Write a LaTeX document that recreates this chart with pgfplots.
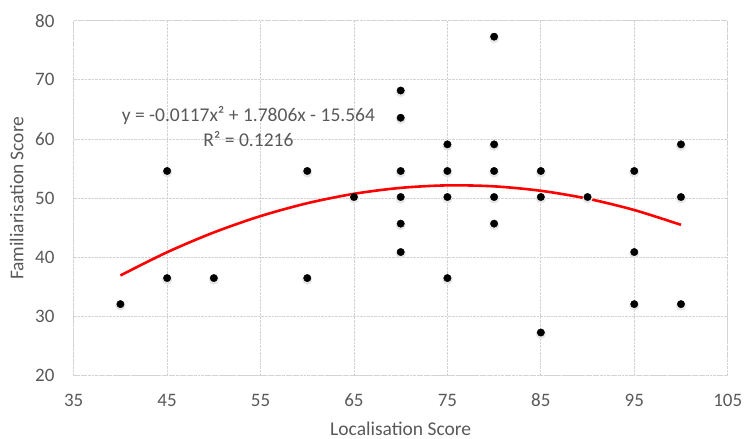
\documentclass[border=0pt]{standalone}
\usepackage{pgfplots}
\pgfplotsset{compat=1.18}
\usepackage{fontspec}
\setmainfont{Carlito}
\definecolor{txt}{HTML}{595959}
\definecolor{gridc}{HTML}{D3D3D3}
\begin{document}
\fontsize{19.5bp}{23bp}\selectfont
\begin{tikzpicture}
\begin{axis}[
 scale only axis, width=654bp, height=355bp,
 xmin=35, xmax=105, ymin=20, ymax=80,
 xtick={35,45,...,105}, ytick={20,30,...,80},
 grid=major,
 major grid style={gridc, densely dotted, line width=0.8bp},
 axis line style={gridc, densely dotted, line width=0.8bp},
 major tick length=0pt,
 ticklabel style={font=\fontsize{19bp}{23bp}\selectfont, text=txt, inner sep=0pt},
 /pgf/number format/assume math mode=true,
 xticklabel style={anchor=north, yshift=-18bp},
 yticklabel style={anchor=east, xshift=-19bp},
 xlabel={Localisation Score}, ylabel={Familiarisation Score},
 label style={font=\fontsize{19.5bp}{23bp}\selectfont, text=txt, inner sep=0pt},
 xlabel style={at={(axis description cs:0.5,-0.150)}, anchor=center},
 ylabel style={at={(axis description cs:-0.0872,0.5)}, anchor=center},
]
% shadow
\addplot[only marks, mark=*, mark size=4.8bp, color=black!10, mark options={yshift=-1.5bp}, forget plot] table {
x y
40 32.1
45 54.6
45 36.5
50 36.5
60 54.6
60 36.5
65 50.2
70 68.2
70 63.6
70 54.6
70 50.2
70 45.7
70 40.9
75 59.1
75 54.6
75 50.2
75 36.5
80 77.3
80 59.1
80 54.6
80 50.2
80 45.7
85 54.6
85 50.2
85 27.3
90 50.2
95 54.6
95 40.9
95 32.1
100 59.1
100 50.2
100 32.1
};
\addplot[only marks, mark=*, mark size=3.7bp, color=black] table {
x y
40 32.1
45 54.6
45 36.5
50 36.5
60 54.6
60 36.5
65 50.2
70 68.2
70 63.6
70 54.6
70 50.2
70 45.7
70 40.9
75 59.1
75 54.6
75 50.2
75 36.5
80 77.3
80 59.1
80 54.6
80 50.2
80 45.7
85 54.6
85 50.2
85 27.3
90 50.2
95 54.6
95 40.9
95 32.1
100 59.1
100 50.2
100 32.1
};
% polynomial trendline (values of the printed fit)
\addplot[red, line width=2.6bp, smooth, no marks] table {
x y
40 36.940
45 40.871
50 44.216
55 46.977
60 49.152
65 50.743
70 51.748
75 52.169
80 52.004
85 51.255
90 49.920
95 48.001
100 45.496
};
\node[text=txt, align=center, font=\fontsize{19.5bp}{25bp}\selectfont, inner sep=0pt] at (axis cs:53.7,62.1) {y = -0.0117x² + 1.7806x - 15.564\\R² = 0.1216};
\end{axis}
\pgfresetboundingbox
\path[use as bounding box] ([shift={(-73.7bp,-63.3bp)}]current axis.south west) rectangle ++(744bp,439bp);
\end{tikzpicture}
\end{document}
